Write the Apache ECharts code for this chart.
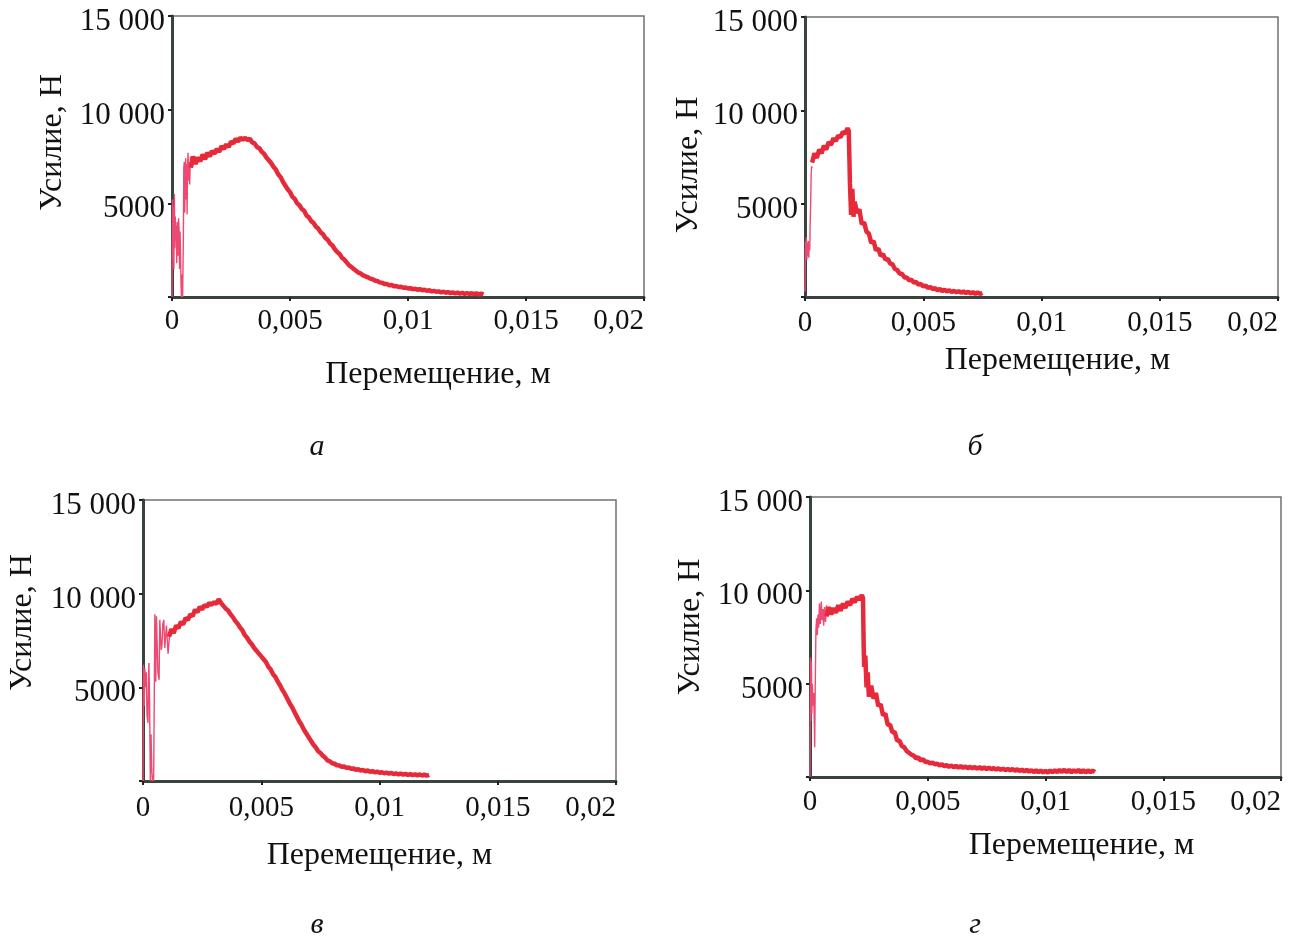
<!DOCTYPE html>
<html>
<head>
<meta charset="utf-8">
<script src="https://cdn.jsdelivr.net/npm/echarts@6/dist/echarts.min.js"></script>
<style>
html, body { margin: 0; padding: 0; background: #fff; }
#chart { width: 1298px; height: 938px; }
</style>
</head>
<body>
<div id="chart"></div>
<script>
// Усилие (Н) от перемещения (м), четыре опыта: а, б, в, г
const xTicks = [0, 0.005, 0.01, 0.015, 0.02];
const yTicks = [0, 5000, 10000, 15000];
const captions = ['а', 'б', 'в', 'г'];

// а
const aStart = [[0,0],[0.00002,5200],[0.00004,2000],[0.00006,4800],[0.00008,1500],[0.0001,5500],[0.00012,2600],[0.00014,4300],[0.00016,3000],[0.00018,3800],[0.0002,1800],[0.00022,4000],[0.00024,3300],[0.00026,2200],[0.00028,4200],[0.0003,3600],[0.00032,1500],[0.00034,3500],[0.00036,2500],[0.00038,800],[0.0004,0],[0.00042,1200],[0.00045,0],[0.00048,3000],[0.0005,6900],[0.00052,7200],[0.00054,4500],[0.00056,6900],[0.00058,7400],[0.0006,5200],[0.00062,7100],[0.00064,4400],[0.00066,7000],[0.00068,7700],[0.0007,6200],[0.00072,7200],[0.00075,6000],[0.00078,7500],[0.0008,7000]];
const aMain = [[0.0008,6900],[0.0009,7500],[0.001,7100],[0.0011,7450],[0.0012,7250],[0.0013,7600],[0.0014,7350],[0.0015,7700],[0.0016,7500],[0.0017,7800],[0.0018,7650],[0.0019,7900],[0.002,7750],[0.0021,8050],[0.0022,7900],[0.0023,8150],[0.0024,8000],[0.0025,8300],[0.0026,8200],[0.0027,8450],[0.0028,8300],[0.0029,8500],[0.003,8400],[0.0031,8500],[0.0032,8380],[0.0033,8450],[0.0034,8250],[0.0035,8200],[0.0036,8000],[0.0037,7950],[0.0038,7750],[0.0039,7650],[0.004,7450],[0.0041,7300],[0.0042,7150],[0.0043,6950],[0.0044,6800],[0.0045,6550],[0.0046,6400],[0.0047,6150],[0.0048,5950],[0.0049,5750],[0.005,5600],[0.0051,5350],[0.0052,5250],[0.0053,5000],[0.0054,4900],[0.0055,4700],[0.0056,4600],[0.0057,4350],[0.0058,4250],[0.0059,4050],[0.006,3950],[0.0061,3750],[0.0062,3650],[0.0063,3450],[0.0064,3350],[0.0065,3150],[0.0066,3050],[0.0067,2850],[0.0068,2750],[0.0069,2550],[0.007,2400],[0.0071,2300],[0.0072,2100],[0.0073,2000],[0.0074,1850],[0.0075,1700],[0.0076,1600],[0.0077,1500],[0.0078,1400],[0.0079,1300],[0.008,1250],[0.0081,1150],[0.0082,1100],[0.0083,1050],[0.0084,980],[0.0085,950],[0.0086,880],[0.0087,850],[0.0088,780],[0.0089,760],[0.009,700],[0.0091,690],[0.0092,630],[0.0093,640],[0.0094,580],[0.0095,590],[0.0096,530],[0.0097,550],[0.0098,490],[0.0099,510],[0.01,450],[0.0101,470],[0.0102,420],[0.0103,440],[0.0104,390],[0.0105,420],[0.0106,360],[0.0107,390],[0.0108,330],[0.0109,360],[0.011,300],[0.0111,330],[0.0112,280],[0.0113,300],[0.0114,250],[0.0115,280],[0.0116,230],[0.0117,260],[0.0118,210],[0.0119,240],[0.012,190],[0.0121,230],[0.0122,180],[0.0123,220],[0.0124,170],[0.0125,210],[0.0126,160],[0.0127,200],[0.0128,150],[0.0129,190],[0.013,140],[0.0131,180],[0.0132,130]];

// б
const bStart = [[0,300],[0.00002,3000],[0.00004,2400],[0.00006,3200],[0.00008,2000],[0.0001,2900],[0.00012,2200],[0.00014,3000],[0.00016,2100],[0.00018,2800],[0.0002,2500],[0.00022,4000],[0.00024,5000],[0.00026,6500],[0.00028,7000],[0.0003,6900]];
const bMain = [[0.0003,7200],[0.0004,7700],[0.0005,7450],[0.0006,7900],[0.0007,7700],[0.0008,8100],[0.0009,7900],[0.001,8300],[0.0011,8150],[0.0012,8500],[0.0013,8350],[0.0014,8650],[0.0015,8550],[0.0016,8850],[0.0017,8750],[0.0018,9050],[0.00185,8900],[0.00188,7300],[0.0019,6100],[0.00195,4400],[0.002,5800],[0.00205,4300],[0.0021,5100],[0.0022,4500],[0.0023,4700],[0.0024,3900],[0.0025,4000],[0.0026,3500],[0.0027,3400],[0.0028,2900],[0.0029,3000],[0.003,2500],[0.0031,2600],[0.0032,2200],[0.0033,2300],[0.0034,2000],[0.0035,2050],[0.0036,1800],[0.0037,1750],[0.0038,1500],[0.0039,1450],[0.004,1250],[0.0041,1250],[0.0042,1050],[0.0043,1050],[0.0044,900],[0.0045,920],[0.0046,780],[0.0047,800],[0.0048,660],[0.0049,700],[0.005,560],[0.0051,620],[0.0052,480],[0.0053,540],[0.0054,420],[0.0055,480],[0.0056,360],[0.0057,430],[0.0058,320],[0.0059,390],[0.006,300],[0.0061,360],[0.0062,270],[0.0063,330],[0.0064,250],[0.0065,310],[0.0066,230],[0.0067,300],[0.0068,210],[0.0069,280],[0.007,190],[0.0071,260],[0.0072,170],[0.0073,250],[0.0074,160],[0.0075,220]];

// в
const cStart = [[0,0],[0.00002,6200],[0.00005,4000],[0.00008,6000],[0.00011,5000],[0.00014,5800],[0.00017,3500],[0.00021,3100],[0.00023,5200],[0.00025,6300],[0.00028,4000],[0.00031,0],[0.00034,2500],[0.00037,600],[0.0004,0],[0.00043,300],[0.00045,0],[0.00048,5000],[0.0005,8900],[0.00054,5300],[0.00057,8800],[0.00059,8700],[0.00063,5800],[0.00068,5400],[0.00071,8600],[0.00073,8600],[0.00077,7000],[0.0008,7200],[0.00084,8400],[0.00088,8600],[0.00092,7100],[0.00096,7100],[0.00099,8300],[0.00101,8400],[0.00106,6800],[0.0011,6900],[0.00113,7900],[0.00116,7900]];
const cMain = [[0.0011,7700],[0.0012,8100],[0.0013,7900],[0.0014,8300],[0.0015,8150],[0.0016,8500],[0.0017,8350],[0.0018,8700],[0.0019,8600],[0.002,8900],[0.0021,8800],[0.0022,9150],[0.0023,9000],[0.0024,9300],[0.0025,9150],[0.0026,9400],[0.0027,9300],[0.0028,9500],[0.0029,9400],[0.003,9550],[0.0031,9450],[0.0032,9700],[0.0033,9500],[0.0034,9350],[0.0035,9200],[0.0036,9100],[0.0037,8900],[0.0038,8750],[0.0039,8550],[0.004,8400],[0.0041,8200],[0.0042,8050],[0.0043,7800],[0.0044,7650],[0.0045,7450],[0.0046,7300],[0.0047,7100],[0.0048,6950],[0.0049,6800],[0.005,6650],[0.0051,6500],[0.0052,6350],[0.0053,6100],[0.0054,5950],[0.0055,5700],[0.0056,5550],[0.0057,5300],[0.0058,5100],[0.0059,4850],[0.006,4650],[0.0061,4400],[0.0062,4150],[0.0063,3950],[0.0064,3700],[0.0065,3450],[0.0066,3200],[0.0067,3000],[0.0068,2750],[0.0069,2550],[0.007,2350],[0.0071,2150],[0.0072,1950],[0.0073,1800],[0.0074,1600],[0.0075,1500],[0.0076,1350],[0.0077,1250],[0.0078,1100],[0.0079,1050],[0.008,950],[0.0081,920],[0.0082,840],[0.0083,830],[0.0084,760],[0.0085,770],[0.0086,700],[0.0087,720],[0.0088,650],[0.0089,670],[0.009,600],[0.0091,630],[0.0092,560],[0.0093,590],[0.0094,520],[0.0095,560],[0.0096,490],[0.0097,530],[0.0098,460],[0.0099,500],[0.01,440],[0.0101,470],[0.0102,410],[0.0103,450],[0.0104,390],[0.0105,430],[0.0106,370],[0.0107,410],[0.0108,350],[0.0109,400],[0.011,340],[0.0111,380],[0.0112,320],[0.0113,370],[0.0114,310],[0.0115,360],[0.0116,300],[0.0117,350],[0.0118,290],[0.0119,340],[0.012,280],[0.0121,330]];

// г
const dStart = [[0,0],[0.00002,6400],[0.00004,3000],[0.00006,6200],[0.00008,3400],[0.0001,5000],[0.00013,3800],[0.00016,4500],[0.0002,1600],[0.00022,4600],[0.00025,7800],[0.00028,8500],[0.00031,7600],[0.00034,8700],[0.00037,8000],[0.0004,9300],[0.00044,8200],[0.00048,9400],[0.00051,8400],[0.00055,9000],[0.00058,8100],[0.00062,9100],[0.00066,8300],[0.0007,9200]];
const dMain = [[0.0007,8600],[0.0008,9100],[0.0009,8700],[0.001,9050],[0.0011,8800],[0.0012,9200],[0.0013,8900],[0.0014,9300],[0.0015,9050],[0.0016,9400],[0.0017,9200],[0.0018,9550],[0.0019,9350],[0.002,9650],[0.0021,9500],[0.0022,9750],[0.00225,9600],[0.00228,7000],[0.0023,5900],[0.00235,6500],[0.0024,4800],[0.00245,5600],[0.0025,4300],[0.0026,4900],[0.0027,4200],[0.0028,4500],[0.0029,3800],[0.003,3900],[0.0031,3300],[0.0032,3400],[0.0033,2800],[0.0034,2800],[0.0035,2400],[0.0036,2400],[0.0037,1950],[0.0038,1950],[0.0039,1650],[0.004,1600],[0.0041,1400],[0.0042,1300],[0.0043,1200],[0.0044,1150],[0.0045,1000],[0.0046,1050],[0.0047,880],[0.0048,950],[0.0049,800],[0.005,820],[0.0051,720],[0.0052,780],[0.0053,680],[0.0054,720],[0.0055,620],[0.0056,680],[0.0057,580],[0.0058,640],[0.0059,540],[0.006,620],[0.0061,520],[0.0062,600],[0.0063,500],[0.0064,580],[0.0065,490],[0.0066,560],[0.0067,470],[0.0068,550],[0.0069,460],[0.007,540],[0.0071,440],[0.0072,530],[0.0073,430],[0.0074,520],[0.0075,420],[0.0076,510],[0.0077,410],[0.0078,480],[0.0079,390],[0.008,470],[0.0081,380],[0.0082,450],[0.0083,360],[0.0084,440],[0.0085,350],[0.0086,430],[0.0087,330],[0.0088,420],[0.0089,320],[0.009,400],[0.0091,300],[0.0092,390],[0.0093,280],[0.0094,370],[0.0095,260],[0.0096,360],[0.0097,250],[0.0098,350],[0.0099,240],[0.01,340],[0.0101,230],[0.0102,350],[0.0103,250],[0.0104,360],[0.0105,260],[0.0106,380],[0.0107,270],[0.0108,390],[0.0109,260],[0.011,380],[0.0111,250],[0.0112,370],[0.0113,260],[0.0114,380],[0.0115,250],[0.0116,370],[0.0117,240],[0.0118,360],[0.0119,250],[0.012,350],[0.0121,260]];

const starts = [aStart, bStart, cStart, dStart];
const mains = [aMain, bMain, cMain, dMain];

const font = 'Liberation Serif';
const axisColor = '#3a443e';
const grids = [
    { left: 172, top: 16, width: 472, height: 281 },
    { left: 805, top: 17, width: 473, height: 280 },
    { left: 143, top: 500, width: 473, height: 281 },
    { left: 810, top: 497, width: 471, height: 280 }
];
// [x-title gap, x-title shift, y-title gap, y-title shift, x-label margin]
const titlePos = [[62, 60, 103, 28, 10], [48, 32, 100, -16, 12], [59, 0, 104, 36, 13], [53, 72, 103, 20, 11]];
const capPos = [[317, 447], [975, 447], [317, 925], [975, 925]];

function fmtX(v) {
    if (v === 0) return '0';
    return String(Number(v.toFixed(4))).replace('.', ',');
}
function fmtY(v) {
    if (v === 0) return '';
    const s = v >= 10000 ? String(v).replace(/\B(?=(\d{3})+$)/g, ' ') : String(v);
    return '{v|' + s + '}';
}
function pad(s) {
    return s >= 0 ? [0, 0, 0, s] : [0, -s, 0, 0];
}

const option = {
    animation: false,
    backgroundColor: '#fff',
    grid: grids.map(g => ({ ...g, show: true, borderColor: '#707070', borderWidth: 1.5, backgroundColor: '#fff' })),
    xAxis: grids.map((g, i) => ({
        type: 'value', gridIndex: i,
        min: xTicks[0], max: xTicks[xTicks.length - 1], interval: xTicks[1] - xTicks[0],
        name: 'Перемещение, м', nameLocation: 'middle', nameGap: titlePos[i][0],
        nameTextStyle: { fontFamily: font, fontSize: 32, color: '#111', padding: pad(titlePos[i][1]) },
        splitLine: { show: false },
        axisLine: { show: true, lineStyle: { color: axisColor, width: 3 } },
        axisTick: { show: true, length: 4, lineStyle: { color: '#222', width: 2 } },
        axisLabel: { fontFamily: font, fontSize: 29, color: '#111', margin: titlePos[i][4], formatter: fmtX,
            alignMaxLabel: 'right' }
    })),
    yAxis: grids.map((g, i) => ({
        type: 'value', gridIndex: i,
        min: yTicks[0], max: yTicks[yTicks.length - 1], interval: yTicks[1] - yTicks[0],
        name: 'Усилие, Н', nameLocation: 'middle', nameGap: titlePos[i][2], nameRotate: 90,
        nameTextStyle: { fontFamily: font, fontSize: 32, color: '#111', padding: pad(titlePos[i][3]) },
        splitLine: { show: false },
        axisLine: { show: true, lineStyle: { color: axisColor, width: 3 } },
        axisTick: { show: true, length: 4, lineStyle: { color: '#222', width: 2 } },
        axisLabel: { margin: 7, formatter: fmtY,
            rich: { v: { fontFamily: font, fontSize: 31, color: '#111', padding: [12, 0, 0, 0] } } }
    })),
    series: [],
    graphic: captions.map((c, i) => ({
        type: 'text', x: capPos[i][0], y: capPos[i][1],
        style: { text: c, font: 'italic 30px "Liberation Serif"', fill: '#111',
            textAlign: 'center', textVerticalAlign: 'middle' }
    }))
};

for (let i = 0; i < 4; i++) {
    option.series.push({
        type: 'line', xAxisIndex: i, yAxisIndex: i, data: starts[i],
        showSymbol: false, symbol: 'none', silent: true,
        lineStyle: { color: '#ec4a72', width: 1.4 }
    });
    option.series.push({
        type: 'line', xAxisIndex: i, yAxisIndex: i, data: mains[i],
        showSymbol: false, symbol: 'none', silent: true,
        lineStyle: { color: '#e62a3a', width: 4.5 }
    });
}

const chart = echarts.init(document.getElementById('chart'));
chart.setOption(option);
</script>
</body>
</html>
